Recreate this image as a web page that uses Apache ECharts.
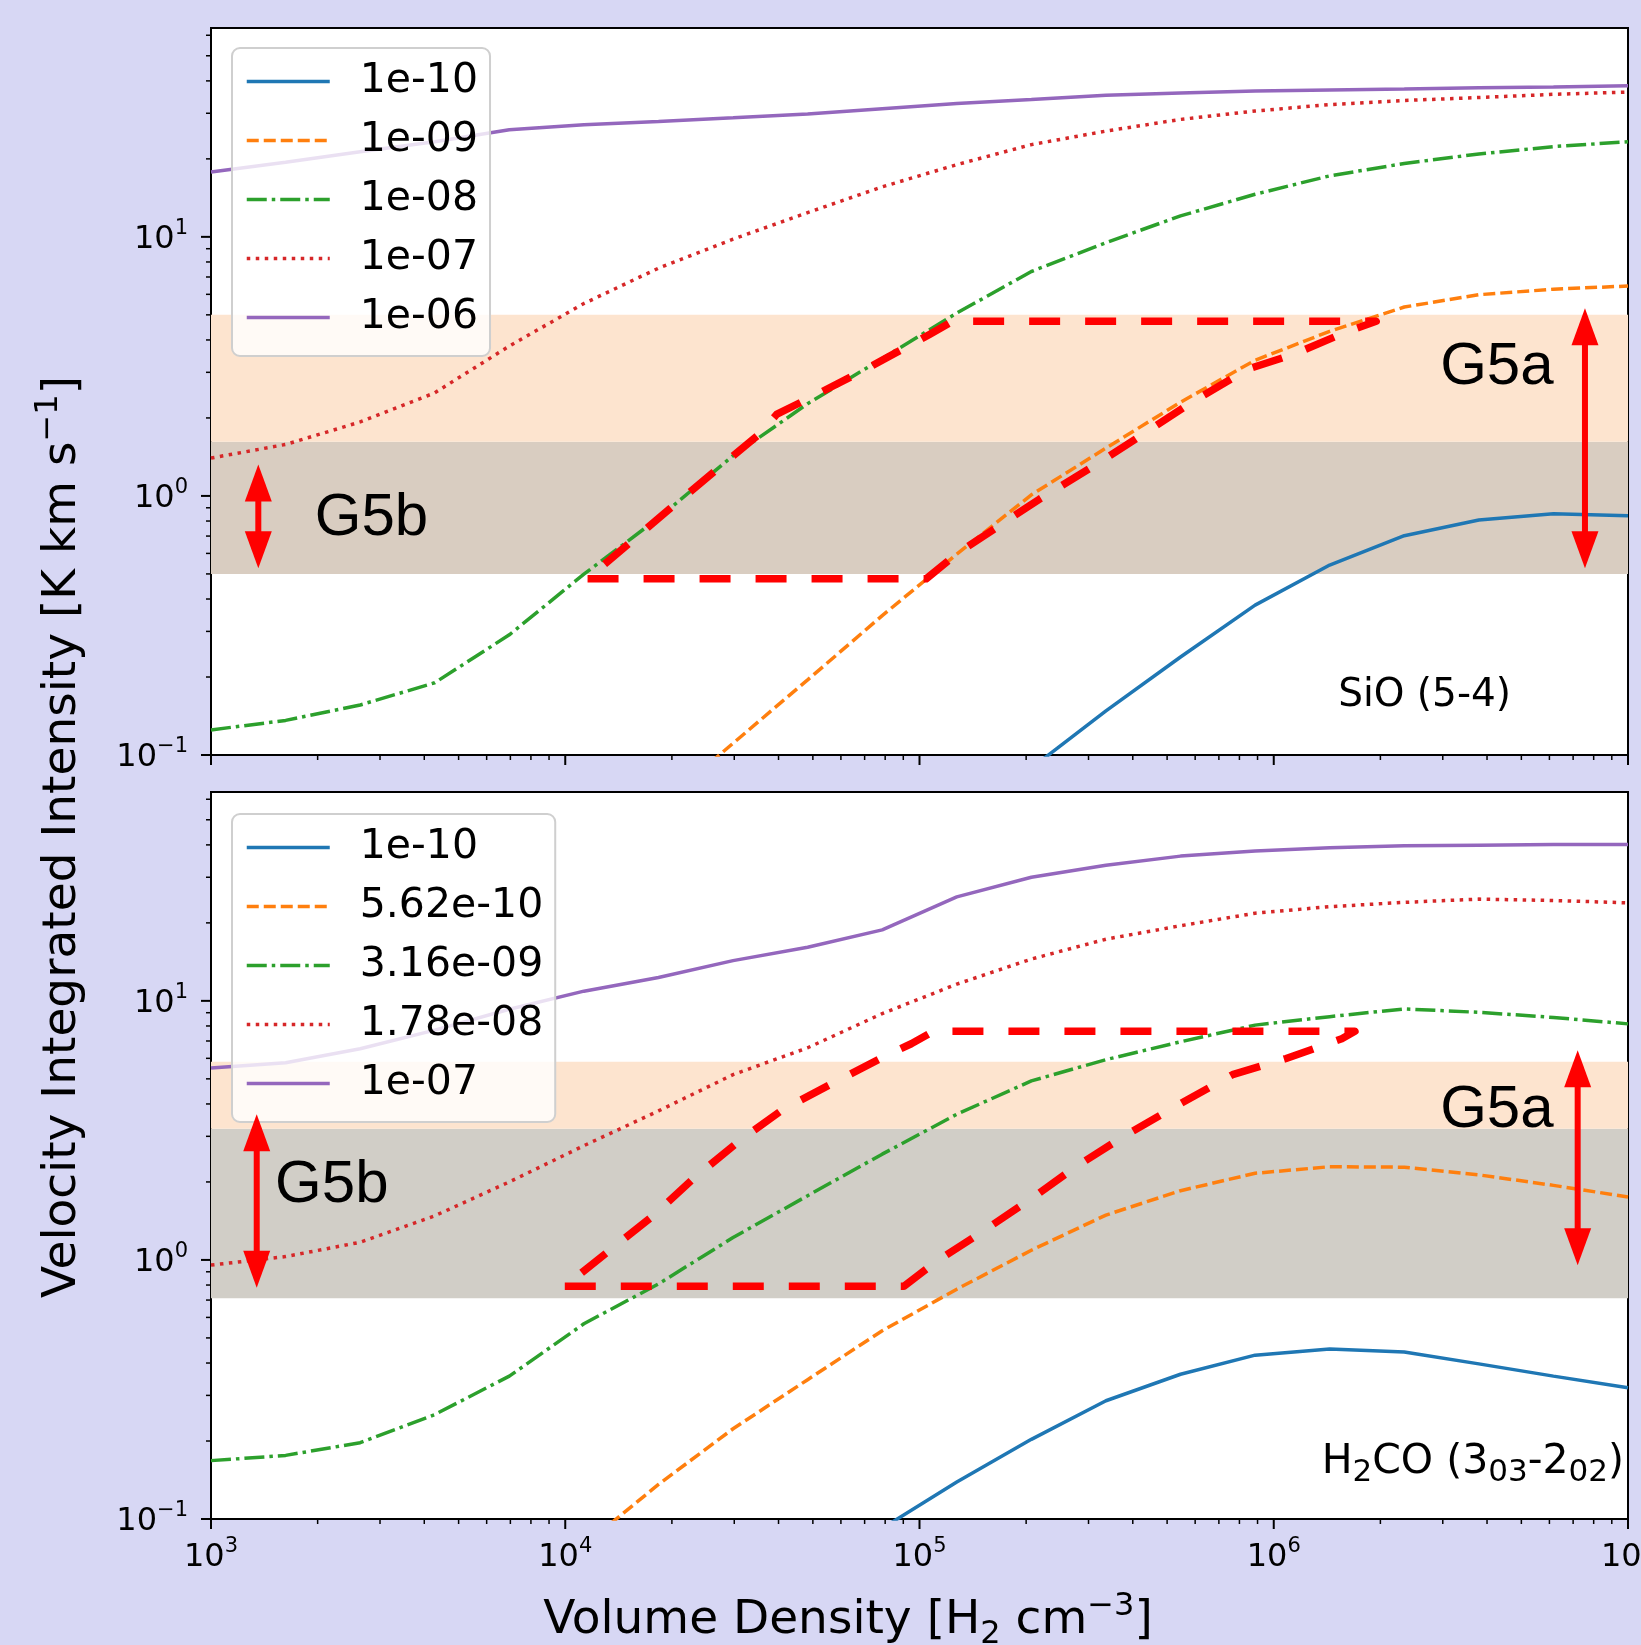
<!DOCTYPE html>
<html>
<head>
<meta charset="utf-8">
<script src="https://cdn.jsdelivr.net/npm/echarts@6/dist/echarts.min.js"></script>
<style>
  html, body { margin: 0; padding: 0; background: #d7d7f4; }
  #chart { width: 1641px; height: 1645px; }
</style>
</head>
<body>
<div id="chart"></div>
<script>
// volume density grid [H2 cm^-3], same for both panels
const density = [1000, 1624, 2637, 4281, 6952, 11288, 18330, 29764, 48329, 78476,
  127427, 206914, 335982, 545559, 885867, 1438450, 2335721, 3792690, 6158482, 10000000];

// SiO (5-4) panel
const sioNames = ['1e-10', '1e-09', '1e-08', '1e-07', '1e-06'];
const sio_1e10 = [null, null, null, null, null, null, null, null, null, null,
  null, 0.089, 0.148, 0.239, 0.379, 0.541, 0.702, 0.807, 0.853, 0.838];
const sio_1e09 = [null, null, null, null, null, null, 0.063, 0.111, 0.195, 0.345,
  0.596, 1.01, 1.53, 2.30, 3.34, 4.32, 5.36, 5.98, 6.28, 6.46];
const sio_1e08 = [0.125, 0.136, 0.156, 0.190, 0.291, 0.499, 0.822, 1.43, 2.27, 3.39,
  5.08, 7.35, 9.5, 12.05, 14.6, 17.2, 19.2, 20.9, 22.3, 23.3];
const sio_1e07 = [1.40, 1.58, 1.93, 2.50, 3.79, 5.53, 7.57, 9.8, 12.4, 15.6,
  19.0, 22.7, 25.6, 28.4, 30.6, 32.4, 33.6, 34.5, 35.5, 36.2];
const sio_1e06 = [17.8, 19.4, 21.3, 23.3, 25.9, 27.1, 27.9, 28.8, 29.8, 31.2,
  32.7, 33.9, 35.2, 35.9, 36.6, 36.9, 37.2, 37.6, 37.9, 38.3];

// H2CO (3_03-2_02) panel
const h2coNames = ['1e-10', '5.62e-10', '3.16e-09', '1.78e-08', '1e-07'];
const h2co_1e10 = [null, null, null, null, null, null, null, null, null, 0.092,
  0.139, 0.203, 0.286, 0.362, 0.429, 0.453, 0.441, 0.397, 0.356, 0.321];
const h2co_562e10 = [null, null, null, null, null, 0.079, 0.136, 0.223, 0.345, 0.533,
  0.771, 1.09, 1.49, 1.85, 2.16, 2.29, 2.28, 2.13, 1.94, 1.75];
const h2co_316e09 = [0.168, 0.176, 0.197, 0.253, 0.356, 0.567, 0.808, 1.22, 1.77, 2.56,
  3.65, 4.91, 5.93, 6.95, 8.06, 8.69, 9.31, 9.03, 8.63, 8.15];
const h2co_178e08 = [0.955, 1.03, 1.17, 1.48, 2.00, 2.76, 3.76, 5.19, 6.59, 8.93,
  11.6, 14.5, 17.3, 19.5, 21.8, 23.1, 24.0, 24.7, 24.4, 23.9];
const h2co_1e07 = [5.51, 5.77, 6.53, 7.71, 9.28, 10.9, 12.3, 14.3, 16.1, 18.8,
  25.2, 30.0, 33.4, 36.2, 37.9, 39.0, 39.7, 39.9, 40.1, 40.1];

// red dashed outlines (closed)
const sioBoxX = [11560, 104500, 127400, 218300, 323300, 590600, 847000, 1137000, 1620000, 1946000,
  123900, 106700, 68200, 48100, 39600, 34900, 19670, 11560];
const sioBoxY = [0.479, 0.479, 0.598, 0.973, 1.35, 2.31, 3.09, 3.52, 4.32, 4.72,
  4.72, 4.20, 3.01, 2.36, 2.07, 1.71, 0.889, 0.479];
const h2coBoxX = [9970, 90400, 111100, 151000, 204000, 275000, 379000, 526000, 765000, 1084000,
  1556000, 1695000, 109400, 94800, 78900, 57000, 41200, 31200, 23000, 17800, 9970];
const h2coBoxY = [0.792, 0.792, 0.982, 1.29, 1.70, 2.28, 3.01, 3.90, 5.19, 5.99,
  7.14, 7.63, 7.63, 6.83, 6.06, 4.82, 3.81, 2.90, 2.06, 1.49, 0.792];

// observed ranges [low, high]: G5b, G5a
const sioBands = [[0.5, 1.62], [1.62, 5.0]];
const h2coBands = [[0.711, 3.21], [3.21, 5.82]];

// double arrows [x, low, high]
const sioArrows = [[1360, 0.526, 1.323], [7560000, 0.526, 5.305]];
const h2coArrows = [[1346, 0.781, 3.654], [7210000, 0.9545, 6.45]];

// group labels, anchored left-middle
const groupNames = ['G5b', 'G5a'];
const sioGroupPos = [[1963, 0.822], [2950000, 3.12]];
const h2coGroupPos = [[1517, 1.94], [2950000, 3.79]];

// axis ticks
const xMajor = [1e3, 1e4, 1e5, 1e6, 1e7];
const yMajor = [0.1, 1, 10];
const xMinor = [];
for (let k = 3; k < 7; k++) for (let m = 2; m <= 9; m++) xMinor.push(m * Math.pow(10, k));
const yMinor = [];
for (let k = -1; k < 2; k++) for (let m = 2; m <= 9; m++) if (m * Math.pow(10, k) < 64) yMinor.push(m * Math.pow(10, k));

const X_MIN = 1e3, X_MAX = 1e7, Y_MIN = 0.1, Y_MAX = 64;

const lineColors = ['#1f77b4', '#ff7f0e', '#2ca02c', '#d62728', '#9467bd'];
const lineDashes = ['solid', [12, 5], [20, 5, 3.5, 5], [3.5, 5.5], 'solid'];
const LW = 3.5;
const bandColors = [
  ['#d9cdc1', '#fde4cf'],
  ['#d1cec7', '#fde4cf']
];
const FONT = 'DejaVu Sans';

function pairs(xs, ys) {
  const out = [];
  ys.forEach(function (v, i) { if (v != null) out.push([xs[i], v]); });
  return out;
}

function curves(idx, prefix, names, values) {
  return names.map(function (nm, i) {
    return {
      type: 'line', name: prefix + ' ' + nm,
      xAxisIndex: idx, yAxisIndex: idx,
      data: pairs(density, values[i]),
      symbol: 'none', z: 3, clip: true,
      lineStyle: { color: lineColors[i], width: LW, type: lineDashes[i] },
      itemStyle: { color: lineColors[i] }
    };
  });
}

function outline(idx, xs, ys) {
  return {
    type: 'line', name: 'box' + idx, xAxisIndex: idx, yAxisIndex: idx,
    data: pairs(xs, ys), symbol: 'none', z: 4, silent: true,
    lineStyle: { color: '#ff0000', width: 7.5, type: [31, 25], join: 'round' }
  };
}

function bands(idx, ranges) {
  return {
    type: 'custom', name: 'bands' + idx, xAxisIndex: idx, yAxisIndex: idx, z: 1, silent: true,
    data: ranges,
    renderItem: function (params, api) {
      const lo = api.coord([X_MIN, api.value(0)]);
      const hi = api.coord([X_MIN, api.value(1)]);
      const cs = params.coordSys;
      return {
        type: 'rect',
        shape: { x: cs.x, y: hi[1], width: cs.width, height: lo[1] - hi[1] },
        style: { fill: bandColors[idx][params.dataIndex] }
      };
    }
  };
}

function arrows(idx, list) {
  return {
    type: 'custom', name: 'arrows' + idx, xAxisIndex: idx, yAxisIndex: idx, z: 5, silent: true,
    data: list,
    renderItem: function (params, api) {
      const lo = api.coord([api.value(0), api.value(1)]);
      const hi = api.coord([api.value(0), api.value(2)]);
      const hw = 13.5, hl = 37;
      return {
        type: 'group', children: [
          { type: 'line', shape: { x1: hi[0], y1: hi[1] + hl - 2, x2: lo[0], y2: lo[1] - hl + 2 },
            style: { stroke: '#ff0000', lineWidth: 6 } },
          { type: 'polygon', shape: { points: [[hi[0], hi[1]], [hi[0] - hw, hi[1] + hl], [hi[0] + hw, hi[1] + hl]] },
            style: { fill: '#ff0000' } },
          { type: 'polygon', shape: { points: [[lo[0], lo[1]], [lo[0] - hw, lo[1] - hl], [lo[0] + hw, lo[1] - hl]] },
            style: { fill: '#ff0000' } }
        ]
      };
    }
  };
}

function groupLabels(idx, pos) {
  return {
    type: 'custom', name: 'groups' + idx, xAxisIndex: idx, yAxisIndex: idx, z: 5, silent: true,
    data: pos,
    renderItem: function (params, api) {
      const p = api.coord([api.value(0), api.value(1)]);
      return {
        type: 'text', x: p[0], y: p[1],
        style: {
          text: groupNames[params.dataIndex], fill: '#000',
          fontSize: 60, fontFamily: 'Liberation Sans',
          align: 'left', verticalAlign: 'middle', textAlign: 'left', textVerticalAlign: 'middle'
        }
      };
    }
  };
}

function ticks(idx) {
  const xt = xMajor.map(function (v) { return [v, 10]; }).concat(xMinor.map(function (v) { return [v, 5]; }));
  const yt = yMajor.map(function (v) { return [10, v]; }).concat(yMinor.map(function (v) { return [5, v]; }));
  return [{
    type: 'custom', name: 'xt' + idx, xAxisIndex: idx, yAxisIndex: idx, z: 6, silent: true,
    data: xt,
    renderItem: function (params, api) {
      const p = api.coord([api.value(0), Y_MIN]);
      const len = api.value(1);
      return { type: 'line', shape: { x1: p[0], y1: p[1], x2: p[0], y2: p[1] + len },
        style: { stroke: '#000', lineWidth: len > 6 ? 2 : 1.5 } };
    }
  }, {
    type: 'custom', name: 'yt' + idx, xAxisIndex: idx, yAxisIndex: idx, z: 6, silent: true,
    data: yt,
    renderItem: function (params, api) {
      const p = api.coord([X_MIN, api.value(1)]);
      const len = api.value(0);
      return { type: 'line', shape: { x1: p[0] - len, y1: p[1], x2: p[0], y2: p[1] },
        style: { stroke: '#000', lineWidth: len > 6 ? 2 : 1.5 } };
    }
  }];
}

// 10^n labels, only on whole decades
function powLabel(v) {
  const l = Math.log10(v);
  const e = Math.round(l);
  if (Math.abs(l - e) > 1e-6) return '';
  return '{b|10}{s|' + (e < 0 ? '\u2212' + (-e) : e) + '}';
}
const powRich = {
  b: { fontSize: 32, fontFamily: FONT, lineHeight: 38, verticalAlign: 'bottom', color: '#000' },
  s: { fontSize: 21, fontFamily: FONT, lineHeight: 21, verticalAlign: 'top', color: '#000' }
};

function legendFor(names, prefix, top) {
  return {
    data: names.map(function (n) { return prefix + ' ' + n; }),
    orient: 'vertical', left: 232, top: top,
    itemWidth: 83, itemHeight: 14, itemGap: 18,
    padding: [13, 12, 18, 13],
    backgroundColor: 'rgba(255,255,255,0.8)',
    borderColor: '#cfcfcf', borderWidth: 2, borderRadius: 8,
    selectedMode: false,
    formatter: function (name) { return name.slice(name.indexOf(' ') + 1); },
    textStyle: { fontSize: 41, fontFamily: FONT, color: '#000', lineHeight: 41, padding: [0, 0, 0, 25] },
    itemStyle: { opacity: 0 },
    lineStyle: { width: LW }
  };
}

const gridBase = {
  left: 211, width: 1417, height: 727,
  show: true, backgroundColor: '#ffffff', borderColor: '#000', borderWidth: 2,
  containLabel: false, outerBoundsMode: 'none'
};

const option = {
  backgroundColor: '#d7d7f4',
  animation: false,
  grid: [
    Object.assign({ top: 28 }, gridBase),
    Object.assign({ top: 792 }, gridBase)
  ],
  xAxis: [0, 1].map(function (i) {
    return {
      type: 'log', logBase: 10, gridIndex: i, min: X_MIN, max: X_MAX,
      axisLine: { show: false }, axisTick: { show: false }, splitLine: { show: false },
      axisLabel: { show: i === 1, formatter: powLabel, rich: powRich, margin: 17, color: '#000' }
    };
  }),
  yAxis: [0, 1].map(function (i) {
    return {
      type: 'log', logBase: 10, gridIndex: i, min: Y_MIN, max: Y_MAX,
      axisLine: { show: false }, axisTick: { show: false }, splitLine: { show: false },
      axisLabel: { formatter: powLabel, rich: powRich, margin: 23, color: '#000' }
    };
  }),
  legend: [
    legendFor(sioNames, 'SiO', 48),
    legendFor(h2coNames, 'H2CO', 814)
  ],
  graphic: [
    {
      type: 'text', x: 63, y: 837, rotation: Math.PI / 2,
      style: {
        text: '{m|Velocity Integrated Intensity [K km s}{p|\u22121}{m|]}',
        rich: {
          m: { fontSize: 47, fontFamily: FONT, lineHeight: 60, fill: '#000' },
          p: { fontSize: 32, fontFamily: FONT, lineHeight: 32, verticalAlign: 'top', fill: '#000' }
        },
        align: 'center', verticalAlign: 'middle', textAlign: 'center', textVerticalAlign: 'middle'
      }
    },
    {
      type: 'text', x: 848, y: 1621,
      style: {
        text: '{m|Volume Density [H}{d|2}{m| cm}{p|\u22123}{m|]}',
        rich: {
          m: { fontSize: 47, fontFamily: FONT, lineHeight: 60, fill: '#000' },
          p: { fontSize: 32, fontFamily: FONT, lineHeight: 32, verticalAlign: 'top', fill: '#000' },
          d: { fontSize: 32, fontFamily: FONT, lineHeight: 32, verticalAlign: 'bottom', fill: '#000' }
        },
        align: 'center', verticalAlign: 'middle', textAlign: 'center', textVerticalAlign: 'middle'
      }
    },
    {
      type: 'text', x: 1511, y: 696, z: 10,
      style: {
        text: 'SiO (5-4)', fontSize: 39, fontFamily: FONT, fill: '#000',
        align: 'right', verticalAlign: 'middle', textAlign: 'right', textVerticalAlign: 'middle'
      }
    },
    {
      type: 'text', x: 1624, y: 1462, z: 10,
      style: {
        text: '{m|H}{d|2}{m|CO (3}{d|03}{m|-2}{d|02}{m|)}',
        rich: {
          m: { fontSize: 41, fontFamily: FONT, lineHeight: 52, fill: '#000' },
          d: { fontSize: 31, fontFamily: FONT, lineHeight: 31, verticalAlign: 'bottom', fill: '#000' }
        },
        align: 'right', verticalAlign: 'middle', textAlign: 'right', textVerticalAlign: 'middle'
      }
    }
  ],
  series: [].concat(
    bands(0, sioBands),
    curves(0, 'SiO', sioNames, [sio_1e10, sio_1e09, sio_1e08, sio_1e07, sio_1e06]),
    outline(0, sioBoxX, sioBoxY),
    arrows(0, sioArrows),
    groupLabels(0, sioGroupPos),
    ticks(0),
    bands(1, h2coBands),
    curves(1, 'H2CO', h2coNames, [h2co_1e10, h2co_562e10, h2co_316e09, h2co_178e08, h2co_1e07]),
    outline(1, h2coBoxX, h2coBoxY),
    arrows(1, h2coArrows),
    groupLabels(1, h2coGroupPos),
    ticks(1)
  )
};

const chart = echarts.init(document.getElementById('chart'), null, { renderer: 'canvas' });
chart.setOption(option);
</script>
</body>
</html>
